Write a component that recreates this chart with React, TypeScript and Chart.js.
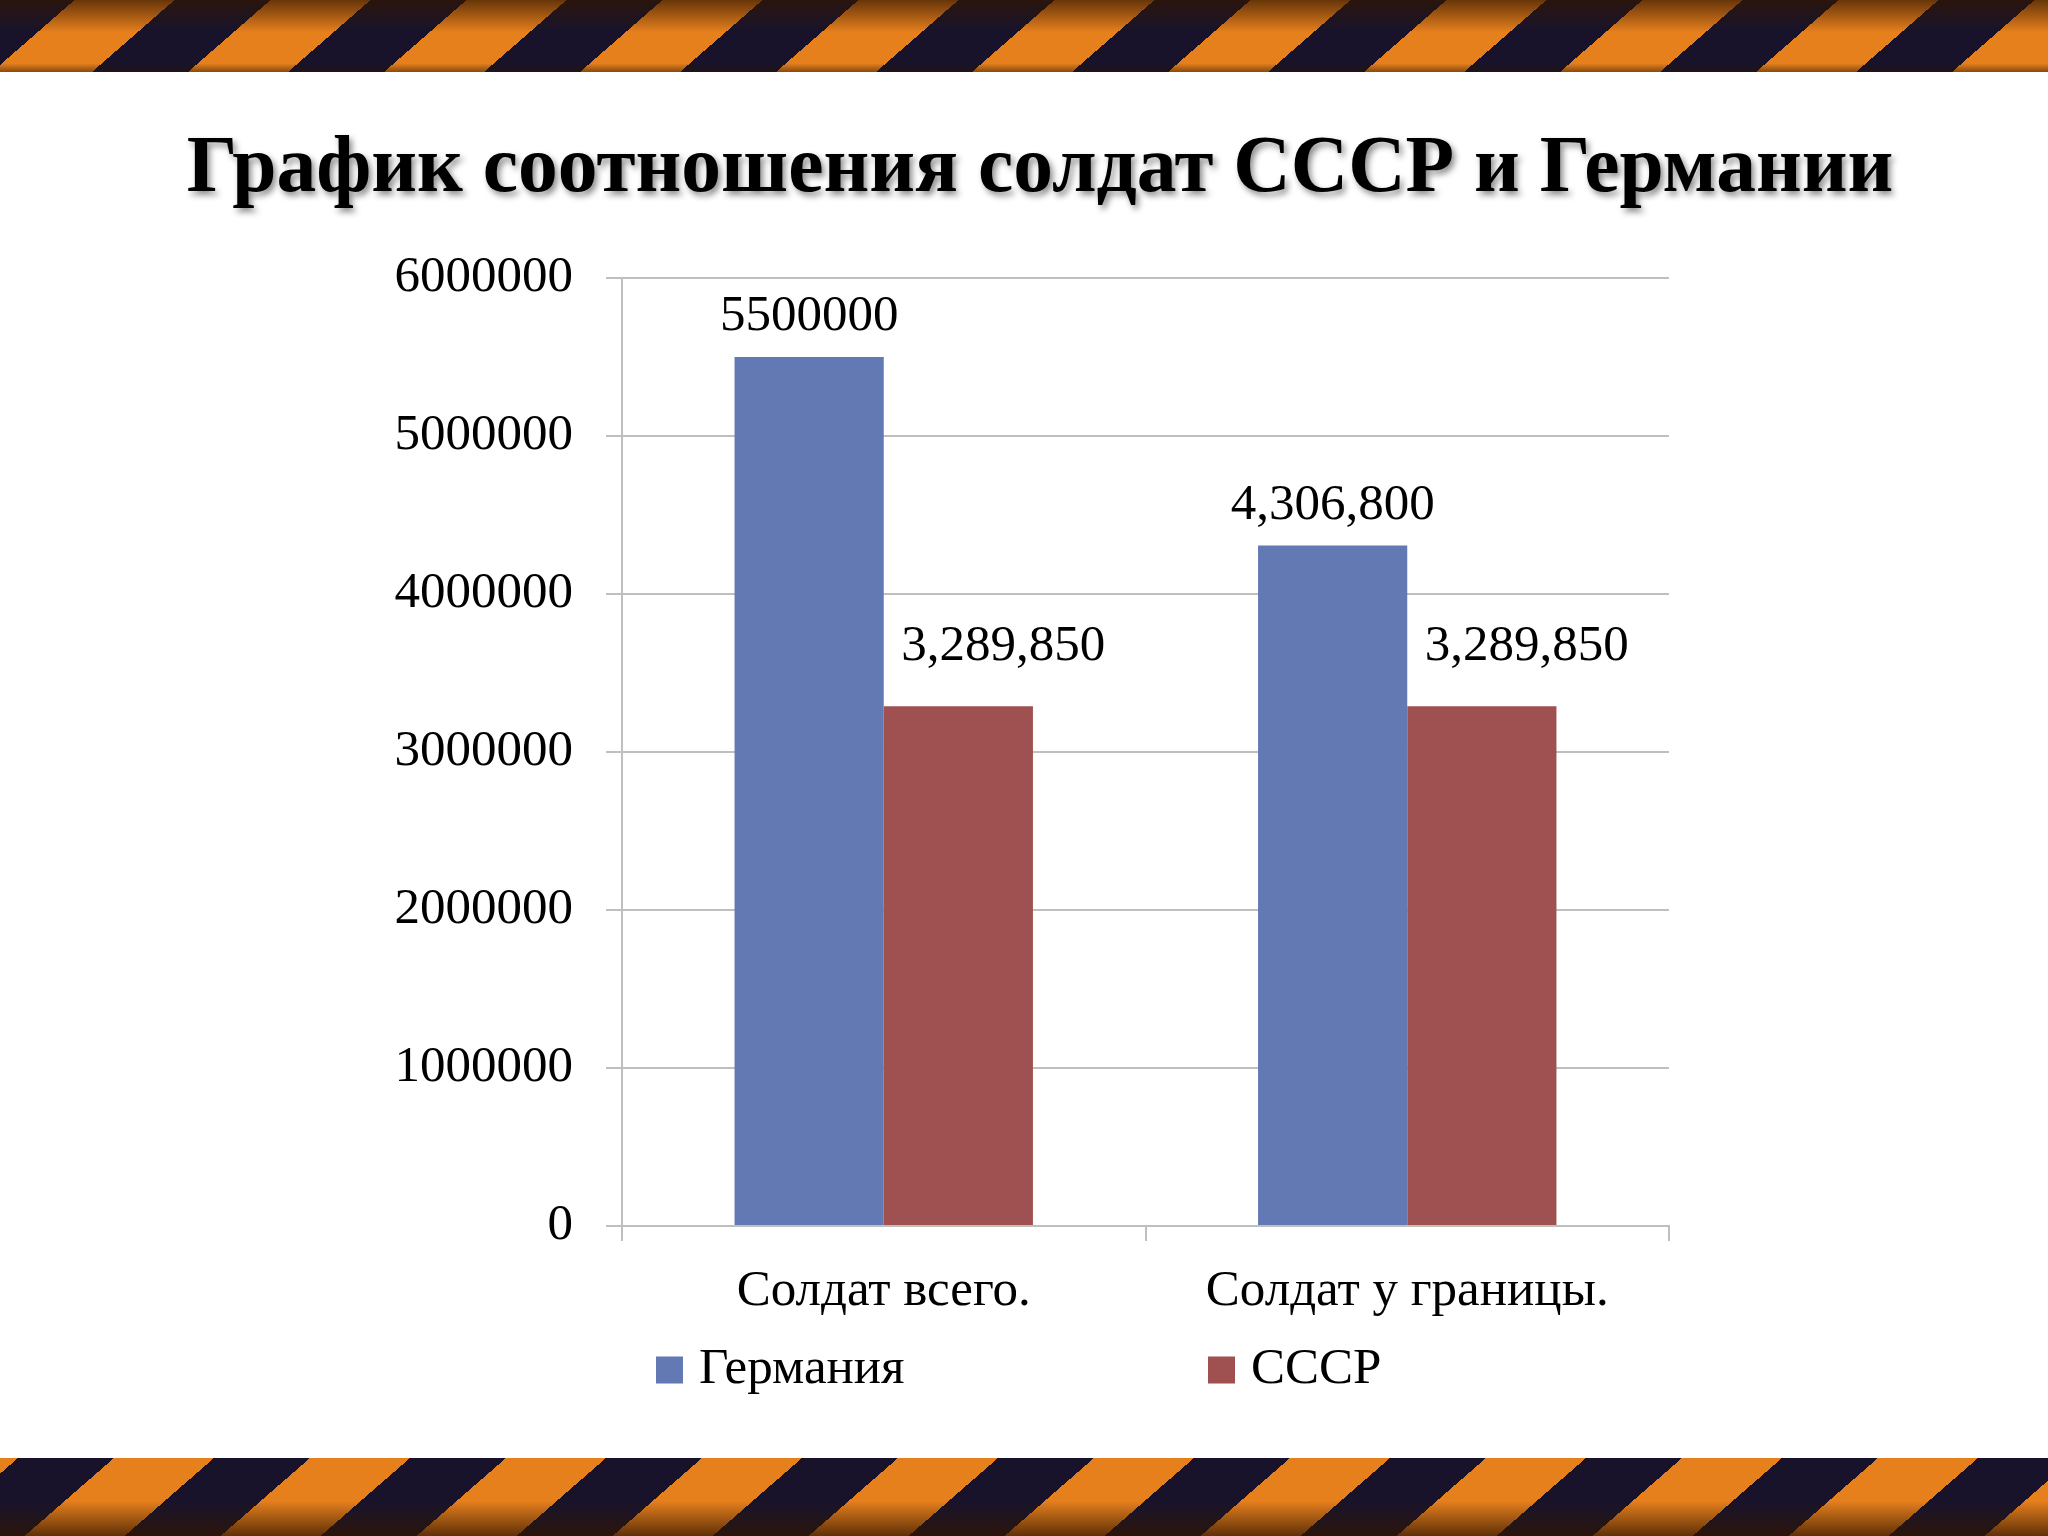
import React, { useEffect, useRef } from 'react';
import { Chart, registerables } from 'chart.js';

Chart.register(...registerables);

// ---------- data ----------
const titleText = 'График соотношения солдат СССР и Германии';
const categories = ['Солдат всего.', 'Солдат у границы.'];
const seriesNames = ['Германия', 'СССР'];
const germanyValues = [5500000, 4306800];
const ussrValues = [3289850, 3289850];
// whether the value label is printed with thousands separators
const germanyLabelGrouped = [false, true];
const ussrLabelGrouped = [true, true];
const yMin = 0;
const yMax = 6000000;
const yStep = 1000000;

// ---------- styles ----------
const FONT = "'Liberation Serif', 'DejaVu Serif', serif";
const BLUE = '#6279b3';
const RED = '#9e5150';
const GRID = '#bfbfbf';

const fmt = (v: number, grouped: boolean) => (grouped ? v.toLocaleString('en-US') : String(v));

// Slide title with a soft drop shadow (drawn on the chart canvas)
const slideTitle = {
  id: 'slideTitle',
  afterDraw(chart: any, _args: any, opts: any) {
    const ctx = chart.ctx;
    ctx.save();
    ctx.font = `bold ${opts.size}px ${FONT}`;
    ctx.textAlign = 'center';
    ctx.textBaseline = 'middle';
    ctx.shadowColor = 'rgba(0,0,0,0.45)';
    ctx.shadowBlur = 6;
    ctx.shadowOffsetX = 3;
    ctx.shadowOffsetY = 4;
    ctx.fillStyle = '#000';
    ctx.fillText(opts.text, opts.x, opts.y);
    ctx.restore();
  },
};

const valueLabels = {
  id: 'valueLabels',
  afterDatasetsDraw(chart: any) {
    const ctx = chart.ctx;
    chart.data.datasets.forEach((ds: any, di: number) => {
      const meta = chart.getDatasetMeta(di);
      const o = ds.valueLabel;
      meta.data.forEach((bar: any, i: number) => {
        ctx.save();
        ctx.font = `51px ${FONT}`;
        ctx.fillStyle = '#000';
        ctx.textAlign = 'center';
        ctx.textBaseline = 'alphabetic';
        ctx.fillText(fmt(ds.data[i], o.grouped[i]), bar.x + o.dx, bar.y - o.gap);
        ctx.restore();
      });
    });
  },
};

const spacedLegend = {
  id: 'spacedLegend',
  afterDraw(chart: any, _args: any, opts: any) {
    const ctx = chart.ctx;
    chart.data.datasets.forEach((ds: any, i: number) => {
      const x = opts.xs[i];
      const y = opts.y;
      ctx.save();
      ctx.fillStyle = ds.backgroundColor;
      ctx.fillRect(x, y - opts.box / 2, opts.box, opts.box);
      ctx.font = `51px ${FONT}`;
      ctx.fillStyle = '#000';
      ctx.textAlign = 'left';
      ctx.textBaseline = 'middle';
      ctx.fillText(ds.label, x + opts.box + opts.gap, y);
      ctx.restore();
    });
  },
};

function ChartCanvas() {
  const ref = useRef<HTMLCanvasElement>(null);
  useEffect(() => {
    if (!ref.current) return;
    const chart = new Chart(ref.current, {
      type: 'bar',
      data: {
        labels: categories,
        datasets: [
          {
            label: seriesNames[0],
            data: germanyValues,
            backgroundColor: BLUE,
            categoryPercentage: 0.57,
            barPercentage: 1,
            valueLabel: { grouped: germanyLabelGrouped, dx: 0, gap: 27 },
          } as any,
          {
            label: seriesNames[1],
            data: ussrValues,
            backgroundColor: RED,
            categoryPercentage: 0.57,
            barPercentage: 1,
            valueLabel: { grouped: ussrLabelGrouped, dx: 45, gap: 46 },
          } as any,
        ],
      },
      options: {
        responsive: false,
        maintainAspectRatio: false,
        animation: false,
        layout: { padding: { top: 278, left: 300, right: 379, bottom: 210 } },
        plugins: {
          legend: { display: false },
          tooltip: { enabled: false },
          title: { display: false },
          slideTitle: { text: titleText, size: 79.5, x: 1040, y: 170 },
          spacedLegend: { xs: [656, 1208], y: 1370, box: 27, gap: 16 },
        } as any,
        scales: {
          x: {
            offset: true,
            grid: { offset: true, drawOnChartArea: false, tickLength: 15, color: GRID, lineWidth: 2 },
            border: { display: true, color: GRID, width: 2 },
            ticks: { color: '#000', padding: 20, font: { family: FONT, size: 51 } },
            afterFit: (s: any) => { s.height = 100; },
          },
          y: {
            min: yMin,
            max: yMax,
            grid: { color: GRID, lineWidth: 2, tickLength: 16 },
            border: { display: true, color: GRID, width: 2 },
            ticks: {
              stepSize: yStep,
              color: '#000',
              padding: 33,
              font: { family: FONT, size: 51 },
              callback: (v: any) => String(v),
            },
            afterFit: (s: any) => { s.width = 322; },
          },
        },
      },
      plugins: [slideTitle, valueLabels, spacedLegend],
    });
    return () => chart.destroy();
  }, []);
  return <canvas ref={ref} width={2048} height={1536} style={{ position: 'absolute', left: 0, top: 0 }} />;
}

const DARK = '#18132b';
const ORANGE = '#e6801d';
const stripes = `repeating-linear-gradient(90deg, ${DARK} 0px, ${DARK} 96px, ${ORANGE} 96px, ${ORANGE} 196px)`;

export default function App() {
  return (
    <div style={{ position: 'absolute', left: 0, top: 0, width: 2048, height: 1536, background: '#ffffff', overflow: 'hidden' }}>
      <div style={{ position: 'absolute', left: 0, top: 0, width: 2048, height: 72, overflow: 'hidden' }}>
        <div
          style={{
            position: 'absolute', left: -104, top: 0, width: 2500, height: 72,
            transformOrigin: 'bottom left', transform: 'skewX(-48.9deg)',
            background: `linear-gradient(to bottom, rgba(50,22,0,0.7) 0%, rgba(50,22,0,0) 45%, rgba(0,0,0,0) 88%, rgba(40,20,0,0.5) 100%), ${stripes}`,
          }}
        />
      </div>
      <div style={{ position: 'absolute', left: 0, top: 1458, width: 2048, height: 78, overflow: 'hidden' }}>
        <div
          style={{
            position: 'absolute', left: -178, top: 0, width: 2500, height: 78,
            transformOrigin: 'top left', transform: 'skewX(-48.9deg)',
            background: `linear-gradient(to top, rgba(50,22,0,0.75) 0%, rgba(50,22,0,0) 45%), ${stripes}`,
          }}
        />
      </div>
      <ChartCanvas />
    </div>
  );
}
